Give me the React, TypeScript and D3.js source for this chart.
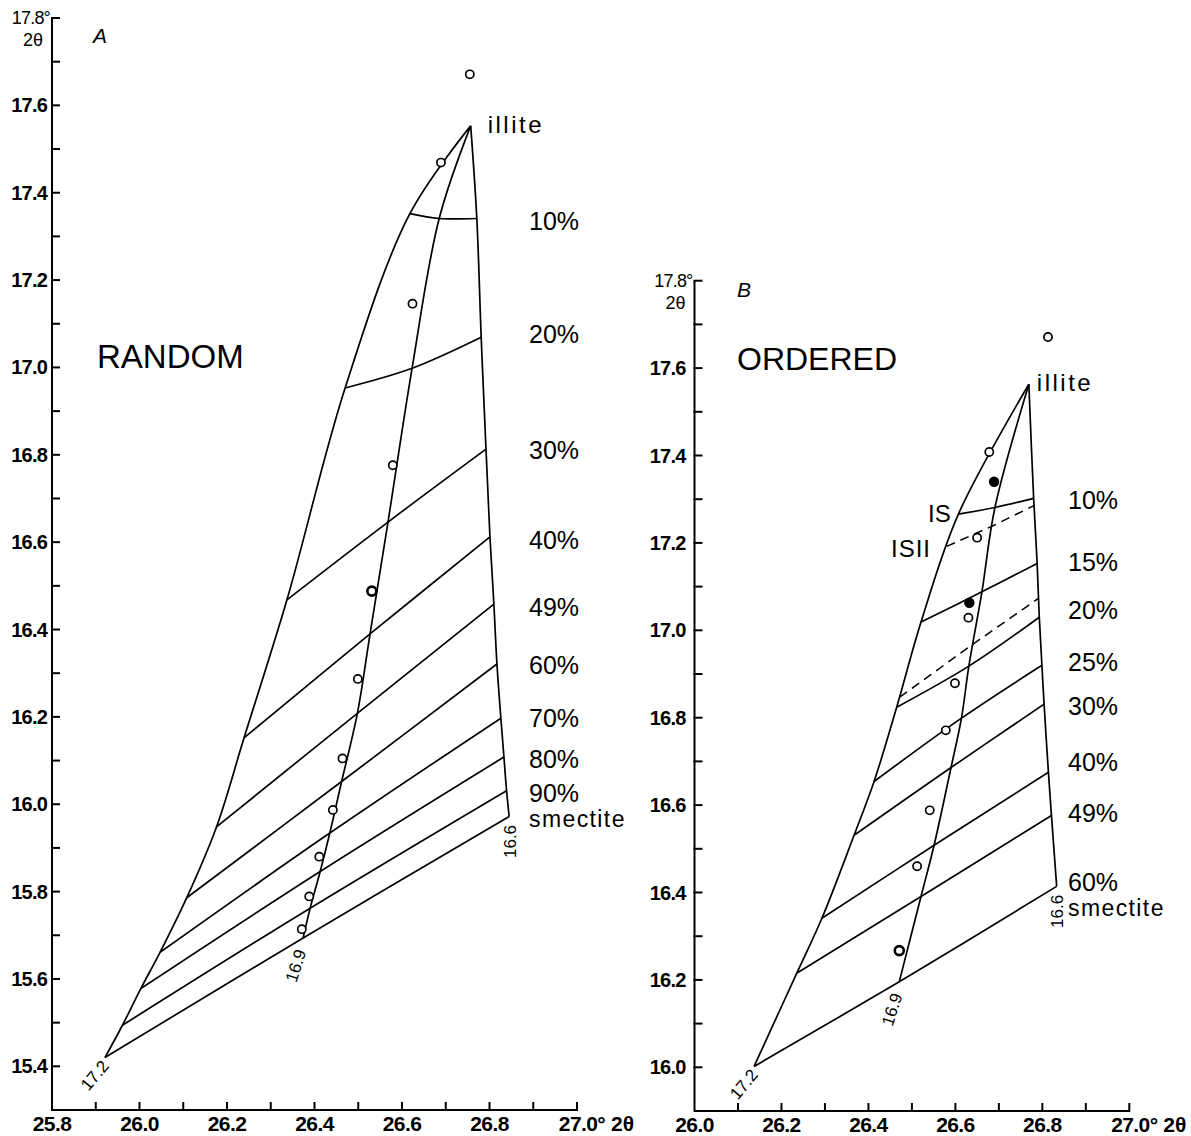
import React from "react";
import * as d3 from "d3";

const FONT = "'Liberation Sans', Arial, Helvetica, sans-serif";

// ---------------- Panel A : RANDOM ----------------
// index 0 = illite apex, last = smectite limit
const RANDOM_L_X = [26.757, 26.618, 26.470, 26.337, 26.239, 26.176, 26.108, 26.047, 26.003, 25.961, 25.921];
const RANDOM_L_Y = [17.553, 17.352, 16.953, 16.468, 16.152, 15.948, 15.786, 15.661, 15.578, 15.494, 15.420];
const RANDOM_M_X = [26.757, 26.685, 26.623, 26.568, 26.527, 26.498, 26.462, 26.435, 26.413, 26.390, 26.374];
const RANDOM_M_Y = [17.553, 17.341, 16.998, 16.646, 16.390, 16.208, 16.052, 15.934, 15.846, 15.762, 15.694];
const RANDOM_R_X = [26.757, 26.771, 26.781, 26.792, 26.801, 26.810, 26.817, 26.826, 26.833, 26.839, 26.845];
const RANDOM_R_Y = [17.553, 17.341, 17.069, 16.813, 16.612, 16.458, 16.321, 16.197, 16.108, 16.031, 15.972];
const RANDOM_LABELS = ["10%", "20%", "30%", "40%", "49%", "60%", "70%", "80%", "90%", "smectite"];
const RANDOM_LABEL_Y = [17.335, 17.076, 16.811, 16.605, 16.452, 16.319, 16.197, 16.104, 16.025, 15.969];
const RANDOM_SAMPLE_X = [26.755, 26.689, 26.624, 26.579, 26.531, 26.499, 26.464, 26.442, 26.411, 26.388, 26.371];
const RANDOM_SAMPLE_Y = [17.671, 17.469, 17.146, 16.776, 16.488, 16.287, 16.105, 15.987, 15.880, 15.789, 15.714];
const RANDOM_SAMPLE_KIND = ["open", "open", "open", "open", "bold", "open", "open", "open", "open", "open", "open"];

// ---------------- Panel B : ORDERED ----------------
const ORDERED_L_X = [26.769, 26.607, 26.521, 26.465, 26.413, 26.367, 26.293, 26.235, 26.137];
const ORDERED_L_Y = [17.563, 17.266, 17.019, 16.824, 16.654, 16.531, 16.341, 16.215, 16.002];
const ORDERED_M_X = [26.769, 26.691, 26.661, 26.631, 26.614, 26.590, 26.551, 26.521, 26.471];
const ORDERED_M_Y = [17.563, 17.281, 17.088, 16.918, 16.799, 16.686, 16.508, 16.391, 16.196];
const ORDERED_R_X = [26.769, 26.780, 26.788, 26.793, 26.799, 26.804, 26.814, 26.821, 26.833];
const ORDERED_R_Y = [17.563, 17.302, 17.153, 17.030, 16.920, 16.831, 16.675, 16.576, 16.414];
// ISII (dashed) lines
const ISII_L_X = [26.580, 26.472];
const ISII_L_Y = [17.192, 16.847];
const ISII_M_X = [26.684, 26.640];
const ISII_M_Y = [17.238, 16.968];
const ISII_R_X = [26.782, 26.791];
const ISII_R_Y = [17.286, 17.073];
const ORDERED_LABELS = ["10%", "15%", "20%", "25%", "30%", "40%", "49%", "60%", "smectite"];
const ORDERED_LABEL_Y = [17.298, 17.157, 17.046, 16.928, 16.826, 16.698, 16.583, 16.423, 16.366];
const ORDERED_SAMPLE_X = [26.813, 26.678, 26.689, 26.650, 26.632, 26.630, 26.599, 26.578, 26.541, 26.512, 26.471];
const ORDERED_SAMPLE_Y = [17.671, 17.408, 17.340, 17.212, 17.063, 17.029, 16.879, 16.771, 16.588, 16.460, 16.267];
const ORDERED_SAMPLE_KIND = ["open", "open", "filled", "open", "filled", "open", "open", "open", "open", "open", "bold"];

// vertex labels (peak position of the smectite end member)
const VERTEX_LABELS = ["17.2", "16.9", "16.6"];

type Pt = [number, number];

interface PanelProps {
  xDomain: [number, number];
  yDomain: [number, number];
  xRange: [number, number];
  yRange: [number, number];
  lx: number[]; ly: number[]; mx: number[]; my: number[]; rx: number[]; ry: number[];
  dashed?: { lx: number[]; ly: number[]; mx: number[]; my: number[]; rx: number[]; ry: number[] };
  labels: string[];
  labelY: number[];
  labelX: number;
  sx: number[]; sy: number[]; skind: string[];
  letter: string; letterPos: Pt;
  title: string; titlePos: Pt; titleSize: number;
  illiteDx: number;
  yLabelGap: number;
}

function Panel(p: PanelProps) {
  const x = d3.scaleLinear().domain(p.xDomain).range(p.xRange);
  const y = d3.scaleLinear().domain(p.yDomain).range(p.yRange);
  const line = d3
    .line<Pt>()
    .x((d) => x(d[0]))
    .y((d) => y(d[1]))
    .curve(d3.curveCatmullRom.alpha(0.5));
  const straight = d3
    .line<Pt>()
    .x((d) => x(d[0]))
    .y((d) => y(d[1]));

  const zip = (a: number[], b: number[]): Pt[] => a.map((v, i) => [v, b[i]] as Pt);
  const left = zip(p.lx, p.ly);
  const mid = zip(p.mx, p.my);
  const right = zip(p.rx, p.ry);
  const iso: Pt[][] = [];
  for (let i = 1; i < p.lx.length; i++) {
    iso.push([
      [p.lx[i], p.ly[i]],
      [p.mx[i], p.my[i]],
      [p.rx[i], p.ry[i]],
    ]);
  }
  const dashedLines: Pt[][] = [];
  if (p.dashed) {
    const d = p.dashed;
    for (let i = 0; i < d.lx.length; i++) {
      dashedLines.push([
        [d.lx[i], d.ly[i]],
        [d.mx[i], d.my[i]],
        [d.rx[i], d.ry[i]],
      ]);
    }
  }

  const x0 = p.xRange[0];
  const x1 = p.xRange[1];
  const yb = p.yRange[0];
  const yt = p.yRange[1];
  const nX = Math.round((p.xDomain[1] - p.xDomain[0]) / 0.1);
  const nY = Math.round((p.yDomain[1] - p.yDomain[0]) / 0.1);
  const fmt = d3.format(".1f");

  const n = p.lx.length - 1;
  const vBottom: Pt[] = [
    [p.lx[n], p.ly[n]],
    [p.mx[n], p.my[n]],
    [p.rx[n], p.ry[n]],
  ];
  const vOffsets: { dx: number; dy: number; rot: number }[] = [
    { dx: -10, dy: 18, rot: -50 },
    { dx: -7, dy: 28, rot: -72 },
    { dx: 1, dy: 25, rot: -90 },
  ];

  const ix = x(p.lx[0]);
  const iy = y(p.ly[0]);

  return (
    <g>
      {/* axes */}
      <path
        d={`M${x0},${yt}L${x0},${yb}L${x1},${yb}`}
        fill="none"
        stroke="#000"
        strokeWidth={2}
      />
      {d3.range(1, nY + 1).map((i) => {
        const v = p.yDomain[0] + i * 0.1;
        return <line key={"yt" + i} x1={x0 - 1} x2={x0 + 8} y1={y(v)} y2={y(v)} stroke="#000" strokeWidth={2} />;
      })}
      {d3.range(1, nY).map((i) => {
        if (i % 2 === 0) return null;
        const v = p.yDomain[0] + i * 0.1;
        return (
          <text key={"yl" + i} x={x0 - p.yLabelGap} y={y(v) + 7} textAnchor="end" fontSize={20} fontWeight="bold" letterSpacing={-0.8} fontFamily={FONT}>
            {fmt(v)}
          </text>
        );
      })}
      <text x={x0 - 2} y={yt + 6} textAnchor="end" fontSize={18} letterSpacing={-0.8} fontFamily={FONT}>
        {fmt(p.yDomain[1]) + "°"}
      </text>
      <text x={x0 - 9} y={yt + 28} textAnchor="end" fontSize={18} fontFamily={FONT}>
        2θ
      </text>
      {d3.range(1, nX + 1).map((i) => {
        const v = p.xDomain[0] + i * 0.1;
        return <line key={"xt" + i} x1={x(v)} x2={x(v)} y1={yb + 1} y2={yb - 8} stroke="#000" strokeWidth={2} />;
      })}
      {d3.range(0, nX + 1).map((i) => {
        if (i % 2 !== 0) return null;
        const v = p.xDomain[0] + i * 0.1;
        const last = i === nX;
        return (
          <text key={"xl" + i} x={x(v) + (last ? 5 : 0)} y={yb + 21} textAnchor="middle" fontSize={21} fontWeight="bold" letterSpacing={-0.6} fontFamily={FONT}>
            {fmt(v) + (last ? "°" : "")}
          </text>
        );
      })}
      <text x={x1 + 34} y={yb + 21} textAnchor="start" fontSize={21} fontWeight="bold" fontFamily={FONT}>
        2θ
      </text>

      {/* panel letter and title */}
      <text x={p.letterPos[0]} y={p.letterPos[1]} fontSize={21} fontStyle="italic" fontFamily={FONT}>
        {p.letter}
      </text>
      <text x={p.titlePos[0]} y={p.titlePos[1]} fontSize={p.titleSize} fontFamily={FONT}>
        {p.title}
      </text>

      {/* boundary curves */}
      {[left, mid, right].map((pts, i) => (
        <path key={"b" + i} d={line(pts) || ""} fill="none" stroke="#000" strokeWidth={1.7} />
      ))}
      {/* iso-composition lines */}
      {iso.map((pts, i) => (
        <path key={"iso" + i} d={line(pts) || ""} fill="none" stroke="#000" strokeWidth={1.7} />
      ))}
      {dashedLines.map((pts, i) => (
        <path key={"ds" + i} d={straight(pts) || ""} fill="none" stroke="#000" strokeWidth={1.5} strokeDasharray="9,6" />
      ))}

      {/* samples */}
      {p.sx.map((v, i) => {
        const k = p.skind[i];
        if (k === "filled") return <circle key={"s" + i} cx={x(v)} cy={y(p.sy[i])} r={5.2} fill="#000" />;
        return (
          <circle
            key={"s" + i}
            cx={x(v)}
            cy={y(p.sy[i])}
            r={k === "bold" ? 4.5 : 4.1}
            fill="#fff"
            stroke="#000"
            strokeWidth={k === "bold" ? 2.6 : 1.7}
          />
        );
      })}

      {/* labels */}
      <text x={ix + p.illiteDx} y={iy + 7} fontSize={24} letterSpacing={2.5} fontFamily={FONT}>
        illite
      </text>
      {p.labels.map((t, i) => (
        <text
          key={"lab" + i}
          x={p.labelX}
          y={y(p.labelY[i]) + 9}
          fontSize={t === "smectite" ? 23 : 25}
          letterSpacing={t === "smectite" ? 1.4 : 0}
          fontFamily={FONT}
        >
          {t}
        </text>
      ))}
      {vBottom.map((pt, i) => {
        const cx = x(pt[0]) + vOffsets[i].dx;
        const cy = y(pt[1]) + vOffsets[i].dy;
        return (
          <text
            key={"v" + i}
            x={cx}
            y={cy}
            transform={`rotate(${vOffsets[i].rot},${cx},${cy})`}
            textAnchor="middle"
            dominantBaseline="central"
            fontSize={17}
            fontFamily={FONT}
          >
            {VERTEX_LABELS[i]}
          </text>
        );
      })}
    </g>
  );
}

export default function App() {
  return (
    <svg
      width={1191}
      height={1136}
      viewBox="0 0 1191 1136"
      style={{ position: "absolute", left: 0, top: 0, background: "#fff" }}
    >
      <rect x={0} y={0} width={1191} height={1136} fill="#fff" />
      <Panel
        xDomain={[25.8, 27.0]}
        yDomain={[15.3, 17.8]}
        xRange={[52, 577]}
        yRange={[1110, 18]}
        lx={RANDOM_L_X} ly={RANDOM_L_Y} mx={RANDOM_M_X} my={RANDOM_M_Y} rx={RANDOM_R_X} ry={RANDOM_R_Y}
        labels={RANDOM_LABELS}
        labelY={RANDOM_LABEL_Y}
        labelX={529}
        sx={RANDOM_SAMPLE_X} sy={RANDOM_SAMPLE_Y} skind={RANDOM_SAMPLE_KIND}
        letter="A" letterPos={[93, 43]}
        title="RANDOM" titlePos={[97, 368]} titleSize={33}
        illiteDx={17}
        yLabelGap={5}
      />
      <Panel
        xDomain={[26.0, 27.0]}
        yDomain={[15.9, 17.8]}
        xRange={[694.5, 1129.3]}
        yRange={[1111, 280.7]}
        lx={ORDERED_L_X} ly={ORDERED_L_Y} mx={ORDERED_M_X} my={ORDERED_M_Y} rx={ORDERED_R_X} ry={ORDERED_R_Y}
        dashed={{ lx: ISII_L_X, ly: ISII_L_Y, mx: ISII_M_X, my: ISII_M_Y, rx: ISII_R_X, ry: ISII_R_Y }}
        labels={ORDERED_LABELS}
        labelY={ORDERED_LABEL_Y}
        labelX={1068}
        sx={ORDERED_SAMPLE_X} sy={ORDERED_SAMPLE_Y} skind={ORDERED_SAMPLE_KIND}
        letter="B" letterPos={[737, 297]}
        title="ORDERED" titlePos={[737, 370]} titleSize={32}
        illiteDx={8}
        yLabelGap={9}
      />
      <text x={928} y={522} fontSize={24} fontFamily={FONT}>IS</text>
      <text x={891} y={557} fontSize={24} letterSpacing={1} fontFamily={FONT}>ISII</text>
    </svg>
  );
}
